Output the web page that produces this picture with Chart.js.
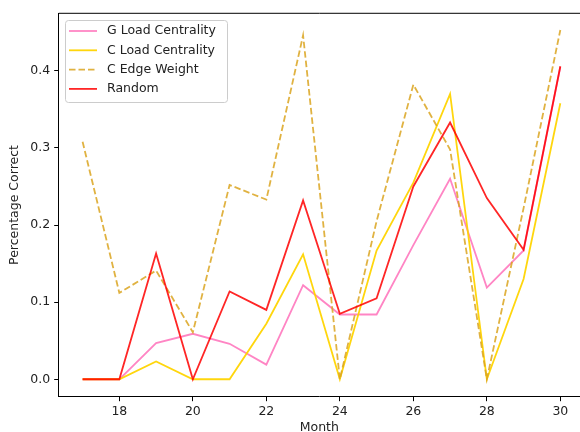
<!DOCTYPE html>
<html>
<head>
<meta charset="utf-8">
<script src="https://cdn.jsdelivr.net/npm/chart.js@4"></script>
<style>
  html, body { margin: 0; padding: 0; background: #fff; overflow: hidden; }
  canvas { display: block; }
</style>
</head>
<body>
<canvas id="myChart" width="580" height="432"></canvas>
<script>
// months on the x axis
const months = [17, 18, 19, 20, 21, 22, 23, 24, 25, 26, 27, 28, 29, 30];

// percentage correct per series
const gLoad = [0, 0, 0.047, 0.059, 0.046, 0.019, 0.122, 0.084, 0.084, 0.174, 0.26, 0.119, 0.167, 0.405];
const cLoad = [0, 0, 0.023, 0, 0, 0.072, 0.162, 0, 0.167, 0.255, 0.37, 0, 0.13, 0.358];
const cEdge = [0.308, 0.112, 0.141, 0.061, 0.252, 0.233, 0.446, 0, 0.205, 0.382, 0.298, 0, 0.222, 0.453];
const random = [0, 0, 0.163, 0, 0.114, 0.09, 0.232, 0.085, 0.105, 0.25, 0.333, 0.235, 0.168, 0.406];

const xTicks = [18, 20, 22, 24, 26, 28, 30];
const yTicks = [0, 0.1, 0.2, 0.3, 0.4];

const toPoints = arr => months.map((m, i) => ({ x: m, y: arr[i] }));
const font = { family: 'DejaVu Sans', size: 12.5 };

// top spine (right one is cut off by the picture edge) + legend box
const frameAndLegend = {
  id: 'frameAndLegend',
  afterDatasetsDraw(chart) {
    const ctx = chart.ctx;
    const a = chart.chartArea;
    ctx.save();
    ctx.strokeStyle = '#000';
    ctx.lineWidth = 1;
    ctx.beginPath();
    ctx.moveTo(a.left, a.top);
    ctx.lineTo(chart.width, a.top);
    ctx.stroke();

    ctx.fillStyle = 'rgba(255,255,255,0.8)';
    ctx.strokeStyle = '#cccccc';
    ctx.beginPath();
    ctx.roundRect(65.5, 20.5, 162, 82, 3);
    ctx.fill();
    ctx.stroke();

    ctx.font = '12.5px "DejaVu Sans"';
    ctx.textBaseline = 'middle';
    chart.data.datasets.forEach((ds, i) => {
      const y = 31 + i * 19.3;
      ctx.strokeStyle = ds.borderColor;
      ctx.lineWidth = ds.borderWidth;
      ctx.setLineDash(ds.borderDash || []);
      ctx.beginPath();
      ctx.moveTo(69, y);
      ctx.lineTo(97, y);
      ctx.stroke();
      ctx.setLineDash([]);
      ctx.fillStyle = '#222';
      ctx.fillText(ds.label, 107, y);
    });
    ctx.restore();
  }
};

const ctx = document.getElementById('myChart').getContext('2d');
const chart = new Chart(ctx, {
    type: 'line',
    data: {
        datasets: [{
            label: 'G Load Centrality',
            borderColor: 'rgba(255, 120, 190, 0.9)',
            borderWidth: 1.8,
            data: toPoints(gLoad),
            order: 4
        },
        {
            label: 'C Load Centrality',
            borderColor: 'rgba(255, 212, 0, 0.95)',
            borderWidth: 1.8,
            data: toPoints(cLoad),
            order: 3
        },
        {
            label: 'C Edge Weight',
            borderColor: 'rgba(218, 165, 32, 0.85)',
            borderWidth: 1.8,
            borderDash: [6.5, 3],
            data: toPoints(cEdge),
            order: 2
        },
        {
            label: 'Random',
            borderColor: 'rgba(255, 0, 0, 0.85)',
            borderWidth: 1.8,
            data: toPoints(random),
            order: 1
        }]
    },
    options: {
        responsive: false,
        animation: false,
        devicePixelRatio: 1,
        layout: { padding: { top: 13.3, right: 0, left: 0, bottom: 0 } },
        elements: { point: { radius: 0 }, line: { tension: 0 } },
        plugins: { legend: { display: false }, tooltip: { enabled: false } },
        scales: {
            x: {
                type: 'linear',
                min: 16.35,
                max: 30.535,
                afterBuildTicks: s => { s.ticks = xTicks.map(v => ({ value: v })); },
                afterFit: s => { s.height = 432 - 396.7; },
                grid: { drawOnChartArea: false, drawTicks: true, tickLength: 4.5, color: '#000' },
                border: { display: true, color: '#000', width: 1 },
                ticks: { color: '#222', font: font, padding: 3, maxRotation: 0, autoSkip: false },
                title: { display: true, text: 'Month', color: '#222',
                         font: { family: 'DejaVu Sans', size: 12.5, lineHeight: 0.64 },
                         padding: { top: 0, bottom: 0 } }
            },
            y: {
                min: -0.0226,
                max: 0.4746,
                afterBuildTicks: s => { s.ticks = yTicks.map(v => ({ value: v })); },
                afterFit: s => { s.width = 58.7; },
                grid: { drawOnChartArea: false, drawTicks: true, tickLength: 4.5, color: '#000' },
                border: { display: true, color: '#000', width: 1 },
                ticks: { color: '#222', font: font, padding: 4, callback: v => v.toFixed(1) },
                title: { display: true, text: 'Percentage Correct', color: '#222', font: font, padding: { top: 7.5, bottom: 0 } }
            }
        }
    },
    plugins: [frameAndLegend]
});
</script>
</body>
</html>
